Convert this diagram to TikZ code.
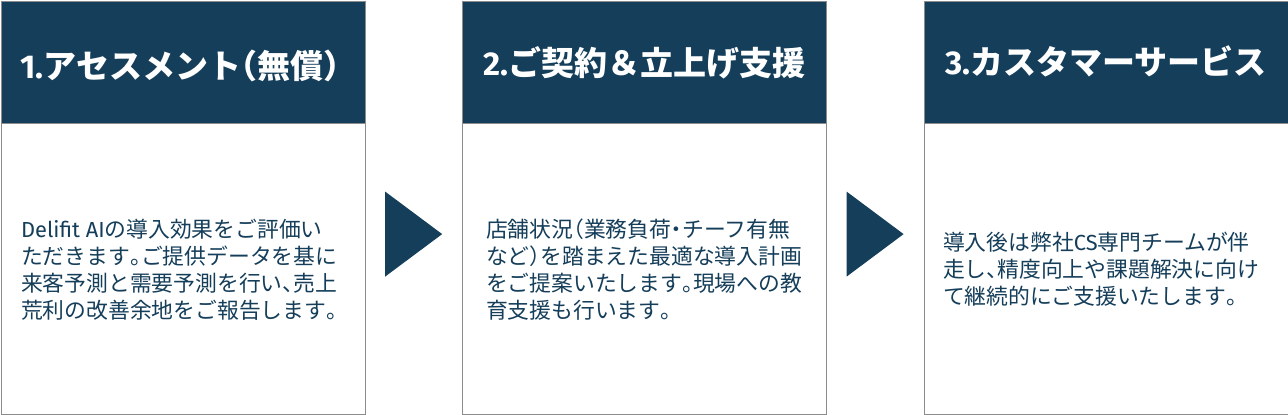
\documentclass[tikz,border=0pt]{standalone}
\usepackage{fontspec}
\setmainfont{Noto Sans CJK JP}
\newfontfamily\halfp[RawFeature=+halt]{Noto Sans CJK JP}
\newfontfamily\latinf{Fira Sans}
\newcommand{\hp}[1]{{\halfp #1}}
\newcommand{\lt}[1]{{\latinf #1}}
\usetikzlibrary{calc}
\definecolor{navy}{HTML}{153E5A}
\definecolor{framegray}{HTML}{8C8C8C}
\tikzset{
  card/.style={draw=framegray, line width=1.2pt, fill=white, minimum width=364, minimum height=413, anchor=north west, inner sep=0},
  headbox/.style={draw=framegray, line width=1.2pt, fill=navy, minimum width=364, minimum height=122, anchor=north west, inner sep=0},
  headtext/.style={text=white, font={\fontsize{33}{38}\selectfont\bfseries}, inner sep=0},
  bodytext/.style={text=navy, align=left, font={\fontsize{21.8}{27}\selectfont}, inner sep=0},
  chevron/.style={fill=navy}
}
\begin{document}
\begin{tikzpicture}[x=1pt,y=-1pt]
\useasboundingbox (0,0) rectangle (1288,415);
% cards
\node[card] (b1) at (0.6,0.6) {};
\node[card] (b2) at (461.5,0.6) {};
\node[card] (b3) at (923.5,0.6) {};
% headers
\node[headbox] (h1) at (b1.north west) {};
\node[headbox] (h2) at (b2.north west) {};
\node[headbox] (h3) at (b3.north west) {};
% header texts
\node[headtext] (ht1) at ($(h1.center)+(-3,4)$) {\lt{1.}アセスメント\hp{（}無償\hp{）}};
\node[headtext] (ht2) at ($(h2.center)+(0,1)$) {\lt{2.}ご契約＆立上げ支援};
\node[headtext] (ht3) at ($(h3.center)+(0,-1)$) {\lt{3.}カスタマーサービス};
% body texts
\node[bodytext] (t1) at ($(h1.south)!0.5!(b1.south)+(-4,0)$) {\lt{Delifit AI}の導入効果をご評価い\\ただきます\hp{。}ご提供データを基に\\来客予測と需要予測を行い\hp{、}売上\\荒利の改善余地をご報告します\hp{。}};
\node[bodytext] (t2) at ($(h2.south)!0.5!(b2.south)+(0,0)$) {店舗状況\hp{（}業務負荷\hp{・}チーフ有無\\など\hp{）}を踏まえた最適な導入計画\\をご提案いたします\hp{。}現場への教\\育支援も行います\hp{。}};
\node[bodytext] (t3) at ($(h3.south)!0.5!(b3.south)+(-5,0)$) {導入後は弊社\lt{CS}専門チームが伴\\走し\hp{、}精度向上や課題解決に向け\\て継続的にご支援いたします\hp{。}};
% chevrons between cards
\coordinate (c1) at ($(b1.north east)!0.5!(b2.north west)+(0,233.5)$);
\coordinate (c2) at ($(b2.north east)!0.5!(b3.north west)+(0,233.5)$);
\fill[chevron] ($(c1)+(-28.5,-42.5)$) -- ($(c1)+(28.5,0)$) -- ($(c1)+(-28.5,42.5)$) -- cycle;
\fill[chevron] ($(c2)+(-28.5,-42.5)$) -- ($(c2)+(28.5,0)$) -- ($(c2)+(-28.5,42.5)$) -- cycle;
\end{tikzpicture}
\end{document}
